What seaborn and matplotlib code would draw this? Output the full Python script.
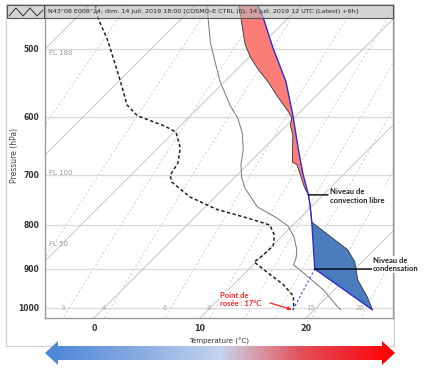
import numpy as np
import matplotlib
matplotlib.use('Agg')
import matplotlib.pyplot as plt
import matplotlib.patches as mpatches
from matplotlib.colors import LinearSegmentedColormap
from matplotlib.lines import Line2D
from matplotlib.ticker import NullLocator
import seaborn as sns

OUTPUT_FILEPATH = 'out.png'

TITLE = 'N43°08 E008°24, dim. 14 juil. 2019 18:00 [COSMO-E CTRL (0), 14 juil. 2019 12 UTC (Latest) +6h]'

# température de l'environnement (hPa, °C)
temp_p = [445, 460, 482, 495, 512, 529, 546, 569, 592, 602, 613, 630, 677, 682,
          724, 739, 759, 795, 856, 884, 928, 971, 1005]
temp_t = [-15.9, -14.5, -12.6, -11.5, -9.8, -7.9, -5.9, -3.5, -1.1, -0.2, 0.3, 1.5, 4.0, 4.7,
          7.5, 8.6, 9.7, 11.5, 17.5, 19.3, 21.3, 23.8, 25.5]

# particule soulevée depuis la surface
parcel_p = [445, 460, 499, 546, 597, 655, 697, 739, 759, 795, 901, 1005]
parcel_t = [-14.1, -12.4, -8.6, -4.2, -0.4, 3.4, 6.0, 8.6, 9.7, 11.5, 16.2, 25.5]

# point de rosée
dew_p = [445, 460, 488, 515, 546, 581, 598, 606, 615, 625, 652, 679, 701, 714, 743,
         768, 786, 801, 823, 847, 870, 884, 911, 938, 968, 997, 1005]
dew_t = [-29.4, -28.0, -25.0, -22.5, -19.8, -17.0, -15.0, -13.3, -11.4, -9.8, -7.9, -6.7, -6.3, -5.5, -2.4,
         1.3, 5.0, 7.8, 9.2, 10.1, 10.0, 9.8, 12.2, 14.6, 16.7, 17.8, 18.0]

# température du thermomètre mouillé
wet_p = [445, 460, 492, 515, 546, 581, 602, 626, 655, 682, 706, 726, 763, 786, 803,
         825, 856, 875, 891, 908, 953, 995, 1005]
wet_t = [-18.9, -17.6, -15.0, -13.0, -10.4, -7.3, -5.3, -3.5, -1.8, -0.6, 0.7, 2.0, 4.9, 7.8, 9.6,
         11.1, 12.7, 13.4, 13.8, 15.3, 19.0, 21.8, 22.5]

LFC_P = 739   # niveau de convection libre
CIN_TOP_P = 795
LCL_P = 901   # niveau de condensation

pressure_ticks = [500, 600, 700, 800, 900, 1000]
temp_ticks = [0, 10, 20]
isotherms = list(range(-100, 50, 10))
mixing_ratios = [1, 2, 3, 4, 6, 8, 10, 12, 15, 20]
mixing_labels = [3, 4, 6, 8, 15, 20]
flight_levels = ['FL 180', 'FL 100', 'FL 50']
flight_levels_p = [506, 697, 843]

P_TOP = 444.8
P_BOT = 1027.1
SKEW = 35.3
T_MIN, T_MAX = -4.62, 28.2

W, H = 440, 369

RED = '#fa7d78'
BLUE_FILL = '#4b7dbe'
BLUE_LINE = '#2b2bd8'


def skew(t, p):
    return np.asarray(t, float) + SKEW * np.log(P_BOT / np.asarray(p, float))


def dewpoint_from_w(w, p):
    e = w * np.asarray(p, float) / (622.0 + w)
    a = np.log(e / 6.112)
    return 243.5 * a / (17.67 - a)


def fx(px):
    return px / W


def fy(py):
    return 1 - py / H


def main():
    sns.set_style('white')
    plt.rcParams['font.family'] = ['DejaVu Sans']
    annot_font = ['Lato', 'DejaVu Sans']

    fig = plt.figure(figsize=(W / 100, H / 100), dpi=100)
    ax = fig.add_axes([fx(45), fy(318), (393 - 45) / W, (318 - 5) / H])
    ax.set_yscale('log')
    ax.set_ylim(P_BOT, P_TOP)
    ax.set_xlim(T_MIN, T_MAX)

    # fond : isobares, isothermes, rapports de mélange
    p_line = np.geomspace(P_TOP, P_BOT, 80)
    for p in pressure_ticks:
        ax.axhline(p, color='#dcdcdc', lw=1.0, zorder=1)
    for t0 in isotherms:
        ax.plot(skew(np.full_like(p_line, t0), p_line), p_line, color='#bdbdbd', lw=0.6, zorder=1)
    for w in mixing_ratios:
        ax.plot(skew(dewpoint_from_w(w, p_line), p_line), p_line, color='#cccccc', lw=0.6,
                ls=(0, (3, 2.5)), zorder=1)
        if w in mixing_labels:
            ax.text(skew(dewpoint_from_w(w, 1000), 1000) - 0.6, 1000, str(w), ha='center', va='center',
                    fontsize=5, color='#aaaaaa', zorder=2)
    for lab, p in zip(flight_levels, flight_levels_p):
        ax.text(0.012, p, lab, transform=ax.get_yaxis_transform(), ha='left', va='center',
                fontsize=5, color='#999999', zorder=2)

    env_x = skew(temp_t, temp_p)
    par_x = skew(parcel_t, parcel_p)

    # CAPE (rouge) et CIN (bleu)
    i_env = temp_p.index(LFC_P)
    i_par = parcel_p.index(LFC_P)
    red_x = np.concatenate([env_x[:i_env + 1], par_x[:i_par + 1][::-1]])
    red_y = np.concatenate([temp_p[:i_env + 1], parcel_p[:i_par + 1][::-1]])
    ax.fill(red_x, red_y, color=RED, lw=0, zorder=3)

    j_env = temp_p.index(CIN_TOP_P)
    j_par = parcel_p.index(CIN_TOP_P)
    blue_x = np.concatenate([env_x[j_env:], par_x[j_par:][::-1]])
    blue_y = np.concatenate([temp_p[j_env:], parcel_p[j_par:][::-1]])
    ax.fill(blue_x, blue_y, color=BLUE_FILL, lw=0, zorder=3)

    # courbes
    sns.lineplot(x=skew(wet_t, wet_p), y=wet_p, sort=False, estimator=None, ax=ax,
                 color='#777777', lw=0.7, zorder=4)
    sns.lineplot(x=skew(dew_t, dew_p), y=dew_p, sort=False, estimator=None, ax=ax,
                 color='#222222', lw=1.1, linestyle=(0, (2.2, 1.6)), zorder=4)
    sns.lineplot(x=env_x, y=temp_p, sort=False, estimator=None, ax=ax,
                 color='#333333', lw=0.6, zorder=4)
    sns.lineplot(x=par_x, y=parcel_p, sort=False, estimator=None, ax=ax,
                 color=BLUE_LINE, lw=1.0, zorder=5)
    # rapport de mélange du point de rosée jusqu'au niveau de condensation
    lcl_t = parcel_t[parcel_p.index(LCL_P)]
    ax.plot(skew([dew_t[-1], lcl_t], [dew_p[-1], LCL_P]), [dew_p[-1], LCL_P],
            color='#3344dd', lw=0.8, ls=(0, (2, 2)), zorder=5)

    # annotations
    lfc_x = skew(parcel_t[parcel_p.index(LFC_P)], LFC_P)
    ax.annotate('', xy=(lfc_x, LFC_P), xytext=(0.813, LFC_P), xycoords='data',
                textcoords=('axes fraction', 'data'),
                arrowprops=dict(arrowstyle='-', color='black', lw=1.0, shrinkA=0, shrinkB=0), zorder=6)
    ax.text(0.819, 0.390, 'Niveau de\nconvection libre', transform=ax.transAxes, ha='left', va='center',
            fontsize=5.5, fontweight='bold', family=annot_font, color='#222222', linespacing=1.3,
            bbox=dict(facecolor='white', edgecolor='none', pad=0.5), zorder=6)

    lcl_x = skew(lcl_t, LCL_P)
    ax.annotate('', xy=(lcl_x, LCL_P), xytext=(0.94, LCL_P), xycoords='data',
                textcoords=('axes fraction', 'data'),
                arrowprops=dict(arrowstyle='-', color='black', lw=1.0, shrinkA=0, shrinkB=0), zorder=6)
    ax.text(0.9425, 0.171, 'Niveau de\ncondensation', transform=ax.transAxes, ha='left', va='center',
            fontsize=5.5, fontweight='bold', family=annot_font, color='#222222', linespacing=1.3,
            bbox=dict(facecolor='white', edgecolor='none', pad=0.5), zorder=6, clip_on=False)

    ax.text(0.503, 0.059, 'Point de\nrosée : 17°C', transform=ax.transAxes, ha='left', va='center',
            fontsize=5.5, fontweight='bold', family=annot_font, color='#ff2020', linespacing=1.3,
            bbox=dict(facecolor='white', edgecolor='none', pad=0.5), zorder=6)
    ax.annotate('', xy=(skew(dew_t[-1], dew_p[-1]), dew_p[-1]), xytext=(0.6466, 0.048),
                xycoords='data', textcoords='axes fraction',
                arrowprops=dict(arrowstyle='-|>', color='#ff2020', lw=0.9, mutation_scale=5,
                                shrinkA=0, shrinkB=1), zorder=6)

    # axes
    ax.yaxis.set_minor_locator(NullLocator())
    ax.set_yticks(pressure_ticks)
    ax.set_yticklabels([str(p) for p in pressure_ticks], fontsize=5.5, fontweight='bold', color='#333333')
    ax.set_xticks(temp_ticks)
    ax.set_xticklabels([str(t) for t in temp_ticks], fontsize=5.8, fontweight='bold', color='#333333')
    ax.tick_params(axis='both', length=0)
    ax.tick_params(axis='y', pad=4)
    ax.tick_params(axis='x', pad=4)

    ax.set_xlabel('Temperature (°C)', fontsize=5, color='#333333')
    ax.set_ylabel('Pressure (hPa)', fontsize=5.5, color='#444444')
    ax.xaxis.label.set_va('center')
    ax.yaxis.label.set_va('center')
    ax.xaxis.set_label_coords(0.5, -0.0735)
    ax.yaxis.set_label_coords(-0.089, 0.518)

    for side in ['left', 'bottom', 'right']:
        ax.spines[side].set_color('#9a9a9a')
        ax.spines[side].set_linewidth(1.0)
    ax.spines['top'].set_visible(False)

    # cadre du panneau
    fig.add_artist(mpatches.Rectangle((fx(6), fy(346)), 388 / W, 342 / H, transform=fig.transFigure,
                                      fill=False, edgecolor='#cfcfcf', lw=0.8, zorder=0))

    # barre de titre (semi-transparente)
    fig.add_artist(mpatches.Rectangle((fx(7), fy(18)), (393 - 7) / W, 13 / H, transform=fig.transFigure,
                                      facecolor=(0.72, 0.72, 0.72, 0.6), edgecolor='#555555', lw=0.8,
                                      zorder=5))
    fig.add_artist(Line2D([fx(44), fx(44)], [fy(5), fy(18)], transform=fig.transFigure,
                          color='#555555', lw=0.8, zorder=6))
    zig_x = [9, 16, 23, 30, 37, 43]
    zig_y = [16, 8, 16, 8, 16, 10]
    fig.add_artist(Line2D([fx(v) for v in zig_x], [fy(v) for v in zig_y], transform=fig.transFigure,
                          color='#333333', lw=0.7, zorder=6))
    fig.text(fx(48), fy(11.5), TITLE, fontsize=4.6, va='center', ha='left', color='#222222', zorder=6)

    # flèche dégradée froid -> chaud
    axb = fig.add_axes([fx(40), fy(369), 360 / W, 33 / H])
    axb.set_xlim(40, 400)
    axb.set_ylim(369, 336)
    axb.axis('off')
    cmap = LinearSegmentedColormap.from_list('froid_chaud', [
        (0.0, '#4a86d8'), (0.25, '#84a9e0'), (0.5, '#c5d4ee'), (0.62, '#d9939f'),
        (0.73, '#e2505a'), (0.86, '#f02832'), (1.0, '#ff0000')])
    arrow_pts = [(45, 353), (58, 341), (58, 346), (382, 346), (382, 341), (395, 353),
                 (382, 365), (382, 360), (58, 360), (58, 365)]
    poly = mpatches.Polygon(arrow_pts, closed=True, facecolor='none', edgecolor='none')
    axb.add_patch(poly)
    im = axb.imshow(np.linspace(0, 1, 300).reshape(1, -1), cmap=cmap, aspect='auto',
                    extent=(45, 395, 366, 340))
    im.set_clip_path(poly)

    fig.savefig(OUTPUT_FILEPATH, dpi=100)


if __name__ == '__main__':
    main()
